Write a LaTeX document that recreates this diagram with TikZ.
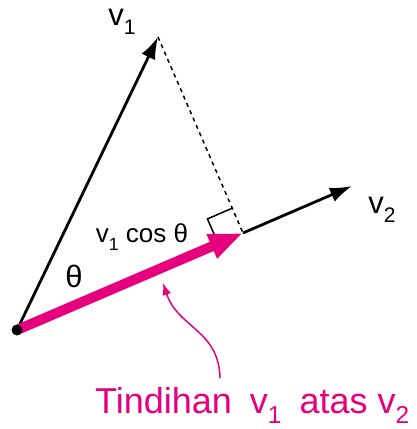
\documentclass[tikz,border=0pt]{standalone}
\usepackage{fontspec}
\setmainfont{Liberation Sans}
\usetikzlibrary{arrows.meta,calc}
\definecolor{tindih}{RGB}{230,0,126}
\newcommand{\vsub}[1]{\raisebox{-0.28em}{\scalebox{0.68}{#1}}}

\begin{document}
\begin{tikzpicture}[x=1pt, y=-1pt,
			% Define the style for the labels and the vectors
			lbl/.style={inner sep=0pt, font=\fontsize{31}{31}\selectfont},
			vec/.style={line width=2.8pt, -{Latex[length=22pt,width=15pt]}},
			proj/.style={draw=tindih, line width=10pt, -{Triangle[length=34pt,width=24pt]}}
			]
			\useasboundingbox (0,0) rectangle (416,429);
			
			\coordinate (O) at (17, 330);
			\coordinate (A) at (158, 37);
			\coordinate (P) at (243, 233);
			\coordinate (B) at (352, 186);
			\coordinate (C) at (220, 378);
			\coordinate (D) at (163, 283);
			
			\node (v1) at (122, 22) [lbl] {v\vsub{1}};
			\node (v2) at (382, 210) [lbl] {v\vsub{2}};
			\node (th) at (74, 276) [lbl] {θ};
			\node (cs) at (142, 237) [lbl, font=\fontsize{26}{26}\selectfont] {v\vsub{1} cos θ};
			\node (tt) at (95, 413) [anchor=base west, inner sep=0pt, text=tindih, font=\fontsize{36}{36}\selectfont]
				{Tindihan\hspace{0.5em}v\vsub{1}\hspace{0.5em}atas v\vsub{2}};
			
			% right angle mark
			\coordinate (M1) at ($(P)!27pt!(O)$);
			\coordinate (M2) at ($(P)!27pt!(A)$);
			\draw[line width=1.5pt] (M1) -- ($(M1)+(M2)-(P)$) -- (M2);
			
			\draw[line width=1.5pt, dash pattern=on 4pt off 4pt] (A) -- (P);
			\draw[vec] (O) -- (A);
			\draw[vec] (P) -- (B);
			\draw[proj] (O) -- (P);
			\fill (O) circle (5.5);
			
			\draw[tindih, line width=1.5pt, -{Latex[length=12pt,width=9pt]}] (C) .. controls (219, 330) and (178, 328) .. (D);
			
		\end{tikzpicture}
\end{document}
